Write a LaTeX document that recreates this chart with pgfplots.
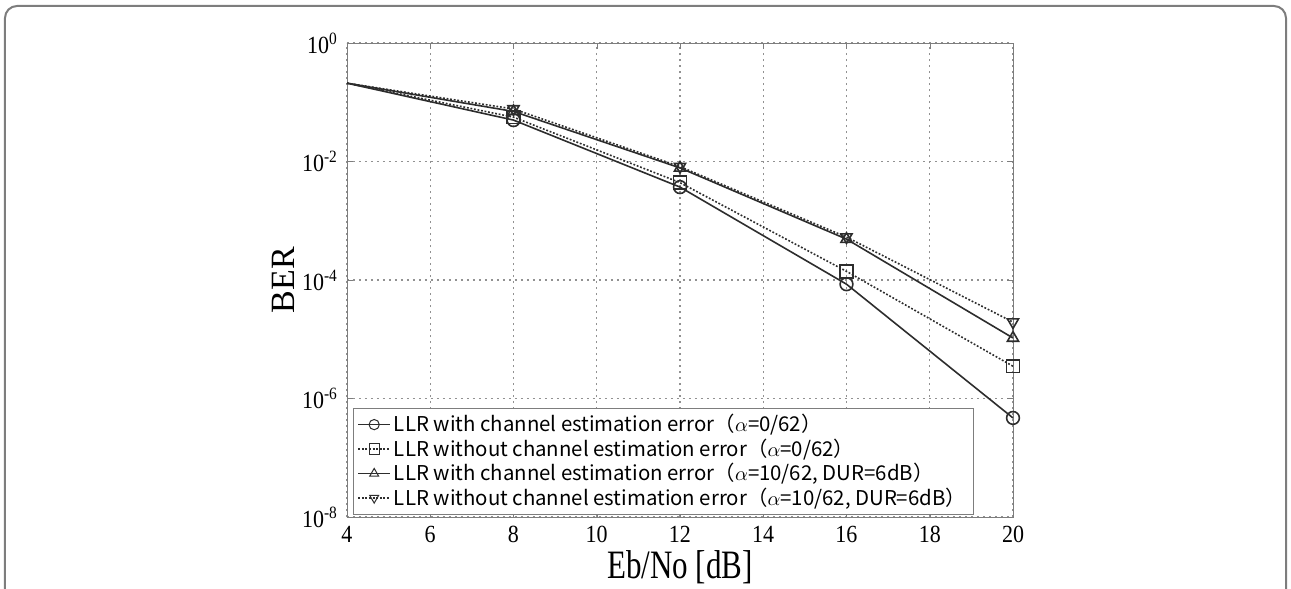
\documentclass[border=0pt]{standalone}
\usepackage{fontspec}
\setmainfont{Liberation Serif}
\newfontfamily\legfont{Noto Sans CJK JP}
\usepackage{graphicx}
\usepackage{pgfplots}
\pgfplotsset{compat=1.18}

\definecolor{axgray}{RGB}{125,125,125}
\definecolor{curve}{RGB}{45,45,45}

% tall, narrow glyphs as in the original figure
\newcommand{\tall}[2][1.3]{\scalebox{1}[#1]{#2}}

\begin{document}
\begin{tikzpicture}
\path[use as bounding box] (-173.5pt,-36pt) rectangle (472pt,258.5pt);
\draw[axgray, line width=1pt, rounded corners=6pt]
  (-171pt,-36pt) -- (-171pt,255.5pt) -- (469.5pt,255.5pt) -- (469.5pt,-36pt);
\begin{axis}[
    at={(0,0)}, anchor=south west,
    scale only axis,
    width=333pt, height=237pt,
    ymode=log,
    xmin=4, xmax=20,
    ymin=1e-8, ymax=1,
    xtick={4,6,...,20},
    xticklabel={\tall[1.12]{\pgfmathprintnumber{\tick}}},
    ytick={1e-8,1e-6,1e-4,1e-2,1},
    yticklabels={\tall[1.12]{10\textsuperscript{-8}},\tall[1.12]{10\textsuperscript{-6}},
        \tall[1.12]{10\textsuperscript{-4}},\tall[1.12]{10\textsuperscript{-2}},\tall[1.12]{10\textsuperscript{0}}},
    minor ytick={},
    /pgf/number format/assume math mode=true,
    tick label style={font=\fontsize{11}{11}\selectfont},
    xticklabel style={inner ysep=0pt, yshift=-4.5pt},
    yticklabel style={xshift=-1pt},
    xlabel={\tall{Eb/No [dB]}},
    ylabel={BER},
    xlabel style={font=\fontsize{15.5}{15.5}\selectfont, inner ysep=0pt,
        at={(axis description cs:0.5,-0.106)}, anchor=center},
    ylabel style={font=\fontsize{17}{17}\selectfont,
        at={(axis description cs:-0.096,0.5)}, anchor=center},
    axis line style={axgray},
    tick style={axgray},
    tick align=inside,
    major tick length=3pt,
    grid=major,
    major grid style={axgray!85, dash pattern=on 1.2pt off 1.8pt, line width=0.6pt},
    legend cell align=left,
    legend image code/.code={
        \draw[#1, mark indices={2}, every mark/.append style={scale=0.8, line width=0.5pt}]
            plot coordinates {(0pt,0pt) (8pt,0pt) (16pt,0pt)};
    },
    legend style={
        at={(axis description cs:0.009,0.005)}, anchor=south west,
        draw=axgray, fill=white,
        font=\legfont\fontsize{10.2}{12.5}\selectfont,
        inner xsep=2pt, inner ysep=1pt, row sep=-2pt,
        nodes={inner xsep=1.5pt},
    },
    every axis plot/.append style={curve, line width=0.8pt, mark size=3.2pt,
        mark indices={2,3,4,5}},
]
\addplot[mark=o, mark options={solid, fill=white}] coordinates {
    (4,0.21) (8,0.050) (12,0.0037) (16,8.5e-5) (20,4.7e-7)
};
\addlegendentry{LLR with channel estimation error（$\alpha$=0/62）}
\addplot[dash pattern=on 0.9pt off 0.9pt, mark=square, mark options={solid, fill=white}] coordinates {
    (4,0.21) (8,0.056) (12,0.0044) (16,1.4e-4) (20,3.5e-6)
};
\addlegendentry{LLR without channel estimation error（$\alpha$=0/62）}
\addplot[mark=triangle, mark options={solid, fill=white}] coordinates {
    (4,0.21) (8,0.070) (12,0.0078) (16,4.9e-4) (20,1.05e-5)
};
\addlegendentry{LLR with channel estimation error（$\alpha$=10/62, DUR=6dB）}
\addplot[dash pattern=on 0.9pt off 0.9pt, mark=triangle, mark options={solid, fill=white, rotate=180}] coordinates {
    (4,0.21) (8,0.077) (12,0.0082) (16,5.3e-4) (20,1.95e-5)
};
\addlegendentry{LLR without channel estimation error（$\alpha$=10/62, DUR=6dB）}
\end{axis}
\end{tikzpicture}
\end{document}
